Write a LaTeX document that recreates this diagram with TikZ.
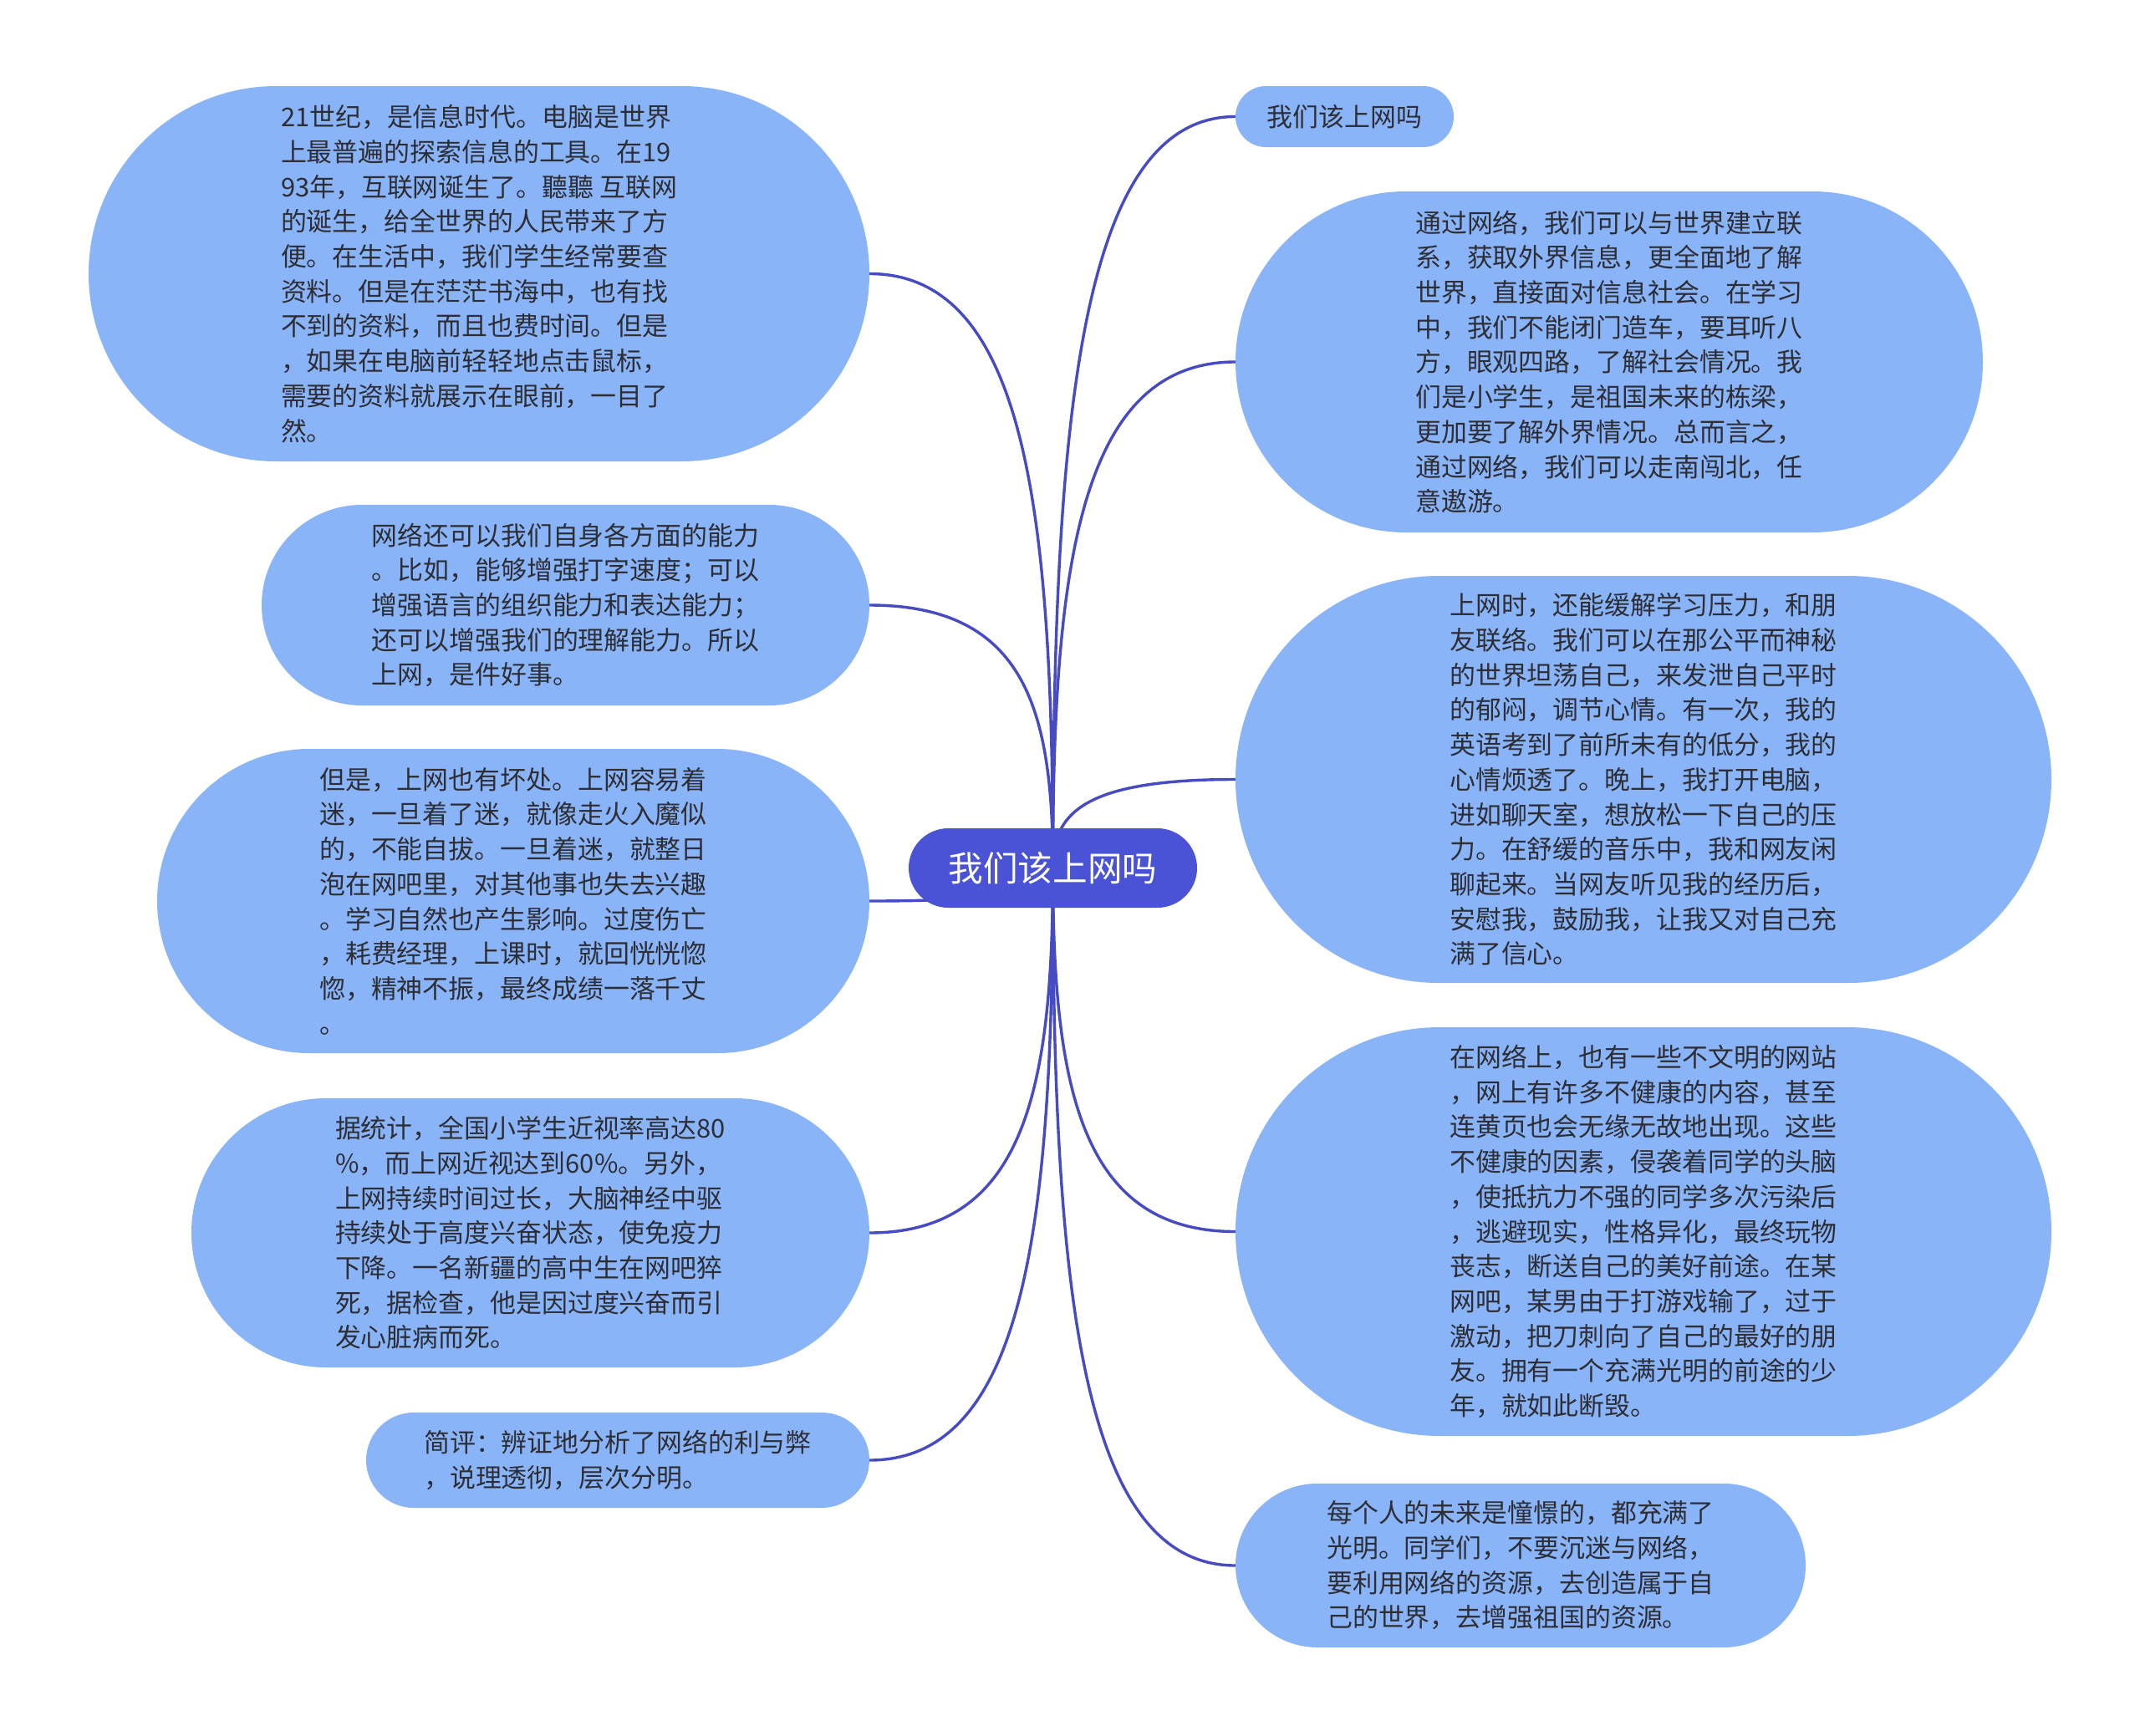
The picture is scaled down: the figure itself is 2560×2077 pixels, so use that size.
\documentclass[tikz,border=0pt]{standalone}
\usepackage{fontspec}
\setmainfont{Noto Sans CJK SC}
\usetikzlibrary{shapes.misc,calc,backgrounds}
\definecolor{linecol}{RGB}{70,75,196}
\definecolor{cfill}{RGB}{74,82,214}
\definecolor{bfill}{RGB}{138,180,248}
\definecolor{tcol}{RGB}{45,45,52}
\newcommand\mmconn[2]{\draw[link] (#1.center) .. controls ($(#1.center)!0.6!(#1.center |- #2)$) and ($(#1.center |- #2)!0.15!(#2)$) .. (#2);}
\begin{document}
\begin{tikzpicture}[x=1pt,y=-1pt,
  branch/.style={rounded rectangle, fill=bfill, text=tcol, align=left, inner sep=0pt,
    font=\fontsize{30.9}{41.7}\selectfont},
  central/.style={rounded rectangle, fill=cfill, text=white, inner sep=0pt,
    font=\fontsize{41.6}{50}\selectfont},
  link/.style={draw=linecol, line width=3.4pt}]
\useasboundingbox (0,0) rectangle (2560,2077);

\node[central, minimum width=345pt, minimum height=95pt] (c) at (1259.5,1038.5) {我们该上网吗};

% left branches
\node[branch, minimum width=934pt, minimum height=449pt] (L1) at (573,327.5) {21世纪，是信息时代。电脑是世界\\上最普遍的探索信息的工具。在19\\93年，互联网诞生了。聽聽 互联网\\的诞生，给全世界的人民带来了方\\便。在生活中，我们学生经常要查\\资料。但是在茫茫书海中，也有找\\不到的资料，而且也费时间。但是\\，如果在电脑前轻轻地点击鼠标，\\需要的资料就展示在眼前，一目了\\然。};
\node[branch, minimum width=727pt, minimum height=240pt] (L2) at (676.5,724) {网络还可以我们自身各方面的能力\\。比如，能够增强打字速度；可以\\增强语言的组织能力和表达能力；\\还可以增强我们的理解能力。所以\\上网，是件好事。};
\node[branch, minimum width=852pt, minimum height=364pt] (L3) at (614,1078) {但是，上网也有坏处。上网容易着\\迷，一旦着了迷，就像走火入魔似\\的，不能自拔。一旦着迷，就整日\\泡在网吧里，对其他事也失去兴趣\\。学习自然也产生影响。过度伤亡\\，耗费经理，上课时，就回恍恍惚\\惚，精神不振，最终成绩一落千丈\\。};
\node[branch, minimum width=811pt, minimum height=322pt] (L4) at (634.5,1475) {据统计，全国小学生近视率高达80\\\%，而上网近视达到60\%。另外，\\上网持续时间过长，大脑神经中驱\\持续处于高度兴奋状态，使免疫力\\下降。一名新疆的高中生在网吧猝\\死，据检查，他是因过度兴奋而引\\发心脏病而死。};
\node[branch, minimum width=602pt, minimum height=114pt] (L5) at (739,1747) {简评：辨证地分析了网络的利与弊\\，说理透彻，层次分明。};

% right branches
\node[branch, minimum width=261pt, minimum height=73pt] (R1) at (1608.5,139.5) {我们该上网吗};
\node[branch, minimum width=894pt, minimum height=408pt] (R2) at (1925,433) {通过网络，我们可以与世界建立联\\系，获取外界信息，更全面地了解\\世界，直接面对信息社会。在学习\\中，我们不能闭门造车，要耳听八\\方，眼观四路，了解社会情况。我\\们是小学生，是祖国未来的栋梁，\\更加要了解外界情况。总而言之，\\通过网络，我们可以走南闯北，任\\意遨游。};
\node[branch, minimum width=976pt, minimum height=487pt] (R3) at (1966,932.5) {上网时，还能缓解学习压力，和朋\\友联络。我们可以在那公平而神秘\\的世界坦荡自己，来发泄自己平时\\的郁闷，调节心情。有一次，我的\\英语考到了前所未有的低分，我的\\心情烦透了。晚上，我打开电脑，\\进如聊天室，想放松一下自己的压\\力。在舒缓的音乐中，我和网友闲\\聊起来。当网友听见我的经历后，\\安慰我，鼓励我，让我又对自己充\\满了信心。};
\node[branch, minimum width=976pt, minimum height=489pt] (R4) at (1966,1473.5) {在网络上，也有一些不文明的网站\\，网上有许多不健康的内容，甚至\\连黄页也会无缘无故地出现。这些\\不健康的因素，侵袭着同学的头脑\\，使抵抗力不强的同学多次污染后\\，逃避现实，性格异化，最终玩物\\丧志，断送自己的美好前途。在某\\网吧，某男由于打游戏输了，过于\\激动，把刀刺向了自己的最好的朋\\友。拥有一个充满光明的前途的少\\年，就如此断毁。};
\node[branch, minimum width=682pt, minimum height=196pt] (R5) at (1819,1873) {每个人的未来是憧憬的，都充满了\\光明。同学们，不要沉迷与网络，\\要利用网络的资源，去创造属于自\\己的世界，去增强祖国的资源。};

\begin{scope}[on background layer]
\fill[white] (0,0) rectangle (2560,2077);
\mmconn{c}{L1.east}
\mmconn{c}{L2.east}
\mmconn{c}{L3.east}
\mmconn{c}{L4.east}
\mmconn{c}{L5.east}
\mmconn{c}{R1.west}
\mmconn{c}{R2.west}
\mmconn{c}{R3.west}
\mmconn{c}{R4.west}
\mmconn{c}{R5.west}
\end{scope}
\end{tikzpicture}
\end{document}
